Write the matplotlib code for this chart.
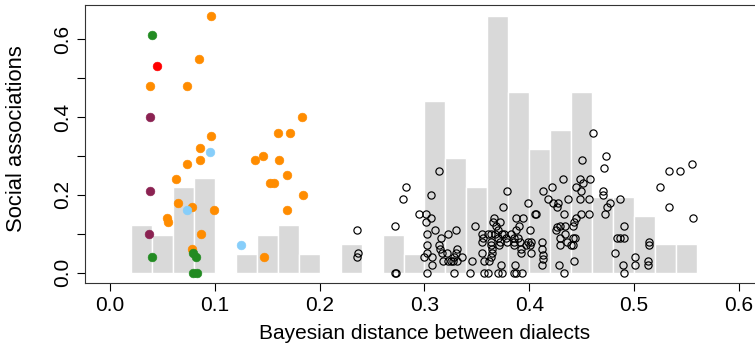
import matplotlib
matplotlib.use("Agg")
import matplotlib.pyplot as plt
import numpy as np

plt.rcParams['font.family'] = ['Liberation Sans', 'DejaVu Sans']

# histogram of distances (bin start, count), bins 0.02 wide
bin_start = [0.02, 0.04, 0.06, 0.08, 0.10, 0.12, 0.14, 0.16, 0.18, 0.20,
             0.22, 0.24, 0.26, 0.28, 0.30, 0.32, 0.34, 0.36, 0.38, 0.40,
             0.42, 0.44, 0.46, 0.48, 0.50, 0.52, 0.54]
bin_count = [5, 4, 9, 10, 0, 2, 4, 5, 2, 0,
             3, 0, 4, 2, 18, 12, 9, 27, 19, 13,
             15, 19, 8, 8, 6, 3, 3]

# coloured dialect pairs
orange_x = [0.096, 0.085, 0.038, 0.073, 0.1835, 0.1606, 0.1714, 0.0964, 0.0859, 0.0862,
            0.0735, 0.138, 0.146, 0.1616, 0.169, 0.063, 0.1527, 0.1565, 0.184, 0.065,
            0.078, 0.0995, 0.169, 0.0544, 0.055, 0.0865, 0.078, 0.1466]
orange_y = [0.66, 0.55, 0.48, 0.48, 0.40, 0.36, 0.36, 0.35, 0.32, 0.29,
            0.28, 0.29, 0.30, 0.29, 0.25, 0.24, 0.23, 0.23, 0.20, 0.18,
            0.17, 0.16, 0.16, 0.14, 0.13, 0.10, 0.06, 0.04]
green_x = [0.0395, 0.040, 0.0795, 0.0817, 0.079, 0.083]
green_y = [0.61, 0.04, 0.05, 0.04, 0.0, 0.0]
red_x = [0.0445]
red_y = [0.53]
purple_x = [0.038, 0.038, 0.0375]
purple_y = [0.40, 0.21, 0.10]
blue_x = [0.0957, 0.0738, 0.125]
blue_y = [0.31, 0.16, 0.07]

# other pairs (open circles)
open_x = [0.236, 0.237, 0.236,
          0.272, 0.272, 0.2726, 0.2796,
          0.282, 0.2944,
          0.3015, 0.301, 0.3066, 0.3066, 0.314, 0.310, 0.3024, 0.302, 0.300, 0.302,
          0.307, 0.307, 0.302, 0.316, 0.314, 0.315, 0.317, 0.318,
          0.322, 0.330, 0.321, 0.322, 0.325, 0.3276, 0.331, 0.330, 0.331, 0.336, 0.328, 0.328,
          0.3435, 0.3454, 0.348, 0.355, 0.355, 0.356, 0.355, 0.357, 0.357,
          0.361, 0.361, 0.363, 0.365, 0.366, 0.372, 0.370, 0.363, 0.363, 0.364,
          0.364, 0.363, 0.362, 0.371, 0.372, 0.373, 0.370, 0.374, 0.375, 0.379,
          0.367, 0.370, 0.374, 0.378, 0.379, 0.376, 0.368,
          0.3858, 0.387, 0.393, 0.386, 0.387, 0.394, 0.390, 0.387, 0.3855, 0.385,
          0.3855, 0.391, 0.392, 0.392, 0.399, 0.399, 0.397, 0.383, 0.389,
          0.405, 0.406, 0.401, 0.402, 0.402, 0.413, 0.418, 0.412, 0.412, 0.413,
          0.413, 0.412, 0.401,
          0.4214, 0.423, 0.427, 0.426, 0.432, 0.4367, 0.4335, 0.426, 0.429, 0.434,
          0.4256, 0.434, 0.429, 0.429, 0.4357, 0.4287, 0.4335,
          0.450, 0.448, 0.451, 0.458, 0.4447, 0.449, 0.448, 0.457, 0.449, 0.457,
          0.4447, 0.443, 0.4415, 0.442, 0.4437, 0.440, 0.4415, 0.443,
          0.4605, 0.473, 0.471, 0.4707, 0.4707, 0.477, 0.474, 0.4726,
          0.4863, 0.4905, 0.4835, 0.4866, 0.4907, 0.4822, 0.4898, 0.4905,
          0.514, 0.514, 0.513, 0.513, 0.501, 0.5005,
          0.525, 0.533, 0.5334,
          0.5436, 0.555, 0.556]
open_y = [0.11, 0.05, 0.04,
          0.12, 0.0, 0.0, 0.19,
          0.22, 0.15,
          0.15, 0.13, 0.14, 0.20, 0.26, 0.11, 0.10, 0.07, 0.04, 0.05,
          0.04, 0.02, 0.0, 0.09, 0.07, 0.06, 0.05, 0.03,
          0.10, 0.11, 0.05, 0.03, 0.03, 0.03, 0.06, 0.05, 0.03, 0.04, 0.0, 0.04,
          0.0, 0.03, 0.12, 0.10, 0.08, 0.09, 0.05, 0.03, 0.0,
          0.10, 0.0, 0.10, 0.13, 0.14, 0.13, 0.11, 0.08, 0.07, 0.06,
          0.05, 0.04, 0.03, 0.07, 0.08, 0.02, 0.0, 0.0, 0.17, 0.21,
          0.10, 0.09, 0.10, 0.09, 0.08, 0.10, 0.12,
          0.0, 0.0, 0.0, 0.02, 0.14, 0.14, 0.12, 0.11, 0.09, 0.08,
          0.07, 0.08, 0.05, 0.06, 0.18, 0.08, 0.07, 0.10, 0.09,
          0.15, 0.15, 0.11, 0.08, 0.05, 0.21, 0.19, 0.08, 0.06, 0.045,
          0.035, 0.02, 0.07,
          0.22, 0.18, 0.18, 0.17, 0.24, 0.19, 0.15, 0.118, 0.12, 0.12,
          0.11, 0.10, 0.09, 0.07, 0.08, 0.02, 0.0,
          0.29, 0.24, 0.23, 0.24, 0.22, 0.21, 0.19, 0.19, 0.15, 0.15,
          0.14, 0.13, 0.12, 0.09, 0.09, 0.07, 0.07, 0.03,
          0.36, 0.30, 0.27, 0.21, 0.20, 0.18, 0.17, 0.15,
          0.19, 0.12, 0.09, 0.09, 0.09, 0.05, 0.02, 0.0,
          0.08, 0.07, 0.03, 0.02, 0.04, 0.02,
          0.22, 0.17, 0.26,
          0.26, 0.28, 0.14]

all_y = orange_y + green_y + red_y + purple_y + blue_y + open_y
scale = max(all_y) / max(bin_count)
bar_h = [c * scale for c in bin_count]

fig = plt.figure(figsize=(7.55, 3.54), dpi=100)
ax = fig.add_axes([0.1126, 0.2006, 0.8993, 0.784])

ax.bar(bin_start, bar_h, width=0.02, align='edge', color='#d9d9d9',
       edgecolor='white', linewidth=1.0, zorder=1)

ax.plot(open_x, open_y, 'o', ms=5.2, mfc='none', mec='black', mew=0.85, zorder=2)

for xs, ys, col in [(orange_x, orange_y, '#ff8c00'), (green_x, green_y, '#228b22'),
                    (red_x, red_y, '#ff0000'), (purple_x, purple_y, '#8b2252'),
                    (blue_x, blue_y, '#87cefa')]:
    ax.plot(xs, ys, 'o', ms=6.3, mfc=col, mec=col, mew=0.4, zorder=3)

ax.set_xlim(-0.024, 0.624)
ax.set_ylim(-0.0264, 0.6864)

ax.set_xticks([0.0, 0.1, 0.2, 0.3, 0.4, 0.5, 0.6])
ax.set_xticklabels(['0.0', '0.1', '0.2', '0.3', '0.4', '0.5', '0.6'])
ax.set_yticks([0.0, 0.2, 0.4, 0.6])
ax.set_yticklabels(['0.0', '0.2', '0.4', '0.6'], rotation=90, va='center')
ax.set_yticks([0.1, 0.3, 0.5], minor=True)

for s in ax.spines.values():
    s.set_linewidth(0.8)
    s.set_color('#333333')

ax.tick_params(which='both', direction='out', length=5.5, width=0.8, color='black')
ax.tick_params(axis='both', labelsize=15, pad=4)

ax.set_xlabel('Bayesian distance between dialects', fontsize=15, labelpad=6)
ax.set_ylabel('Social associations', fontsize=15.8)
ax.yaxis.set_label_coords(-0.085, 0.52)

fig.savefig('out.png', dpi=100)
